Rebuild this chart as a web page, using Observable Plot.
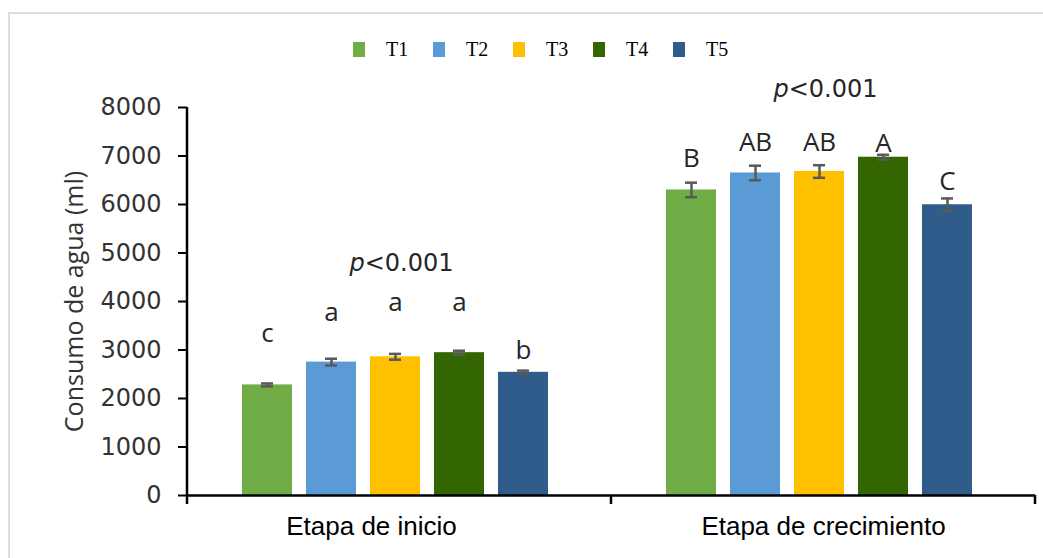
<!DOCTYPE html>
<html>
<head>
<meta charset="utf-8">
<script src="https://cdn.jsdelivr.net/npm/d3@7"></script>
<script src="https://cdn.jsdelivr.net/npm/@observablehq/plot@0.6"></script>
<style>
  html, body { margin: 0; padding: 0; background: #fff; }
  body { width: 1043px; height: 558px; position: relative; overflow: hidden; }
  #frame { position: absolute; left: 8px; top: 12px; width: 1100px; height: 600px;
           border-left: 2px solid #dcdcdc; border-top: 2px solid #dcdcdc; }
  #legend { position: absolute; left: 353px; top: 38px; display: flex;
            font-family: "Liberation Serif", "Times New Roman", serif; font-size: 20px; color: #000; }
  .item { display: flex; align-items: center; width: 80px; }
  .sw { width: 12px; height: 15px; margin-right: 21px; }
  #chart { position: absolute; left: 0; top: 0; }
</style>
</head>
<body>
<div id="frame"></div>
<div id="chart"></div>
<div id="legend"></div>
<script>
// ---- data ----
const stages = ["Etapa de inicio", "Etapa de crecimiento"];
const treatments = ["T1", "T2", "T3", "T4", "T5"];
const colors = ["#70AD47", "#5B9BD5", "#FFC000", "#336600", "#2F5C8B"];

const inicioValues = [2280, 2750, 2860, 2945, 2540];
const inicioErrors = [30, 70, 60, 40, 35];
const inicioLetters = ["c", "a", "a", "a", "b"];
const inicioLetterY = [3340, 3770, 3975, 3975, 2990];

const crecimientoValues = [6300, 6650, 6680, 6975, 5995];
const crecimientoErrors = [150, 150, 130, 50, 130];
const crecimientoLetters = ["B", "AB", "AB", "A", "C"];
const crecimientoLetterY = [6950, 7270, 7280, 7260, 6470];

const pLabel = "p<0.001";
const pLabelY = [4785, 8370];

const yTicks = [0, 1000, 2000, 3000, 4000, 5000, 6000, 7000, 8000];
const yLabel = "Consumo de agua (ml)";

// ---- table built from arrays ----
const rows = [];
treatments.forEach((t, i) => {
  rows.push({stage: stages[0], t, v: inicioValues[i], e: inicioErrors[i], l: inicioLetters[i], ly: inicioLetterY[i]});
});
treatments.forEach((t, i) => {
  rows.push({stage: stages[1], t, v: crecimientoValues[i], e: crecimientoErrors[i], l: crecimientoLetters[i], ly: crecimientoLetterY[i]});
});
const pRows = stages.map((s, i) => ({stage: s, y: pLabelY[i], text: pLabel}));

const W = 1043, H = 558;
const chart = Plot.plot({
  width: W, height: H,
  marginLeft: 187, marginRight: 8, marginTop: 107, marginBottom: 63,
  style: {fontFamily: "'Open Sans', sans-serif", fontSize: "25px", color: "#333", background: "transparent"},
  fx: {domain: stages, padding: 0, label: null},
  x: {domain: treatments, paddingInner: 0.22, paddingOuter: 0.92, align: 0.47, axis: null},
  y: {domain: [0, 8000], label: null},
  color: {domain: treatments, range: colors},
  marks: [
    Plot.barY(rows, {fx: "stage", x: "t", y: "v", fill: "t"}),
    Plot.ruleX(rows, {fx: "stage", x: "t", y1: d => d.v - d.e, y2: d => d.v + d.e, stroke: "#595959", strokeWidth: 2.5}),
    Plot.tickY(rows, {fx: "stage", x: "t", y: d => d.v - d.e, stroke: "#595959", strokeWidth: 2.5, insetLeft: 19, insetRight: 19}),
    Plot.tickY(rows, {fx: "stage", x: "t", y: d => d.v + d.e, stroke: "#595959", strokeWidth: 2.5, insetLeft: 19, insetRight: 19}),
    Plot.text(rows, {fx: "stage", x: "t", y: "ly", text: "l", fontSize: 26, fill: "#262626"}),
    Plot.text(pRows, {fx: "stage", y: "y", text: "text", fontSize: 24, fill: "#262626", dx: 2,
                      fontFamily: "'DejaVu Sans', sans-serif"}),
    Plot.ruleY([0], {stroke: "#000", strokeWidth: 2.5}),
    Plot.axisY({ticks: yTicks, tickSize: 9, tickPadding: 17, tickFormat: d => String(d),
                stroke: "#000", strokeWidth: 2, fontSize: 24, fill: "#333",
                fontFamily: "'DejaVu Sans', sans-serif",
                label: null}),
    Plot.axisY({ticks: [], tickSize: 0, label: yLabel, labelAnchor: "center", labelOffset: 122,
                labelArrow: "none", fontSize: 25, fill: "#333"}),
    Plot.axisFx({anchor: "bottom", tickSize: 0, tickPadding: 14, label: null,
                 fontFamily: "'Liberation Sans', Arial, sans-serif", fontSize: 26, fill: "#000"})
  ]
});
document.getElementById("chart").appendChild(chart);

// axis line and stage boundary ticks, positioned from Plot's scales
const ys = chart.scale("y"), fxs = chart.scale("fx");
const svg = d3.select(chart);
const y0 = ys.apply(0), yTop = ys.apply(8000);
const xl = fxs.apply(stages[0]);
const xr = fxs.apply(stages[stages.length - 1]) + fxs.bandwidth;
const g = svg.append("g").attr("stroke", "#000").attr("stroke-width", 2.5);
g.append("line").attr("x1", xl).attr("x2", xl).attr("y1", yTop).attr("y2", y0 + 9);
stages.slice(1).forEach(s => {
  const x = fxs.apply(s);
  g.append("line").attr("x1", x).attr("x2", x).attr("y1", y0).attr("y2", y0 + 9);
});
g.append("line").attr("x1", xr).attr("x2", xr).attr("y1", y0).attr("y2", y0 + 9);

// stage labels: the first sits left of its band centre in the original; both a bit lower
svg.selectAll("text").filter(function() { return stages.includes(this.textContent); })
  .style("translate", function() { return (this.textContent === stages[0] ? "-28px" : "0px") + " 7px"; });

// italic p in the significance labels
svg.selectAll("text").filter(function() { return this.textContent === pLabel; }).each(function() {
  const t = d3.select(this);
  t.text(null);
  t.append("tspan").attr("font-style", "italic").text(pLabel.slice(0, 1));
  t.append("tspan").text(pLabel.slice(1));
});

// legend
const legend = d3.select("#legend");
treatments.forEach((t, i) => {
  const it = legend.append("div").attr("class", "item");
  it.append("div").attr("class", "sw").style("background", colors[i]);
  it.append("span").text(t);
});
</script>
</body>
</html>
